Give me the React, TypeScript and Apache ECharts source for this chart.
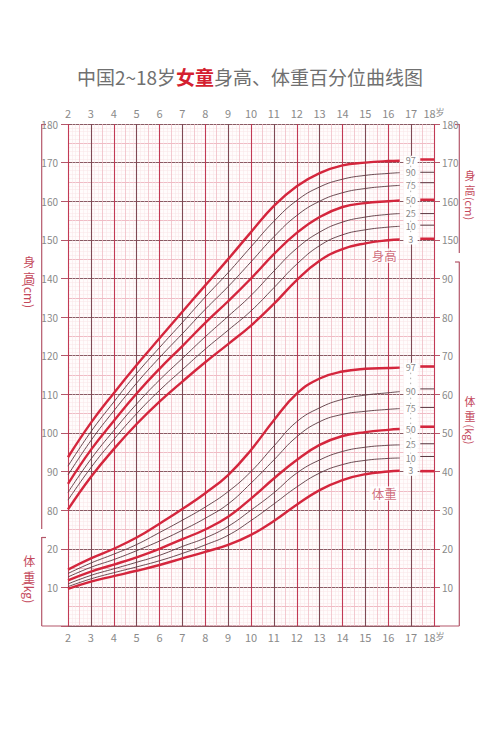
import React, { useEffect, useRef } from 'react';
import * as echarts from 'echarts';

// ---------- data ----------
const AGES = [2, 3, 4, 5, 6, 7, 8, 9, 10, 11, 12, 13, 14, 15, 16, 16.5];
const PERCENTILES = ['3', '10', '25', '50', '75', '90', '97'];
const THICK = ['3', '50', '97'];

// height (cm)
const H_P3 = [80.2, 88.6, 95.8, 102.3, 108.1, 113.3, 118.3, 123.0, 127.8, 133.4, 139.6, 144.6, 147.6, 149.1, 149.9, 150.1];
const H_P10 = [82.6, 91.0, 98.3, 105.0, 111.0, 116.4, 121.7, 126.6, 131.6, 137.6, 143.7, 148.5, 151.3, 152.6, 153.3, 153.5];
const H_P25 = [84.6, 93.2, 100.6, 107.5, 113.7, 119.3, 124.9, 130.2, 135.6, 141.9, 147.8, 152.0, 154.6, 155.9, 156.6, 156.8];
const H_P50 = [86.8, 95.6, 103.1, 110.2, 116.6, 122.5, 128.5, 134.1, 140.0, 146.3, 151.8, 155.9, 158.5, 159.5, 160.0, 160.2];
const H_P75 = [89.1, 98.0, 105.7, 112.9, 119.5, 125.7, 132.0, 137.9, 144.3, 150.8, 156.3, 160.0, 162.2, 163.3, 163.9, 164.1];
const H_P90 = [91.4, 100.3, 108.0, 115.4, 122.1, 128.6, 135.2, 141.5, 148.2, 154.8, 160.2, 163.7, 165.7, 166.7, 167.2, 167.4];
const H_P97 = [93.7, 102.6, 110.3, 117.6, 124.5, 131.4, 138.2, 145.0, 152.0, 158.8, 163.9, 167.3, 169.3, 170.0, 170.4, 170.5];
const HEIGHT_AT_18 = [150.3, 153.8, 156.8, 160.4, 164.8, 167.5, 170.8];

// weight (kg)
const W_P3 = [9.6, 11.5, 12.9, 14.3, 15.8, 17.5, 19.2, 21.0, 23.6, 27.2, 31.4, 35.2, 37.8, 39.3, 40.0, 40.2];
const W_P10 = [10.2, 12.2, 13.8, 15.3, 16.9, 18.8, 21.0, 23.5, 27.3, 31.6, 36.0, 39.6, 41.8, 42.9, 43.4, 43.5];
const W_P25 = [10.9, 13.1, 14.8, 16.5, 18.3, 20.6, 22.8, 25.8, 30.0, 34.5, 39.6, 43.0, 45.2, 46.3, 46.8, 46.9];
const W_P50 = [11.8, 14.1, 15.9, 17.8, 20.0, 22.5, 25.0, 28.3, 33.0, 38.2, 43.0, 46.9, 49.2, 50.2, 50.8, 51.0];
const W_P75 = [12.7, 15.2, 17.2, 19.5, 22.0, 24.8, 27.9, 31.6, 37.0, 43.0, 49.0, 52.9, 54.8, 55.6, 56.1, 56.3];
const W_P90 = [13.6, 16.3, 18.6, 21.1, 24.2, 27.4, 30.8, 34.8, 40.0, 46.6, 52.9, 56.5, 58.7, 59.8, 60.4, 60.7];
const W_P97 = [14.6, 17.5, 20.0, 22.9, 26.5, 30.3, 34.4, 39.1, 45.6, 53.3, 60.2, 64.1, 65.9, 66.6, 66.8, 66.9];
const WEIGHT_AT_18 = [40.1, 43.9, 47.2, 51.6, 56.6, 61.4, 67.2];

const HEIGHT_SETS = [H_P3, H_P10, H_P25, H_P50, H_P75, H_P90, H_P97];
const WEIGHT_SETS = [W_P3, W_P10, W_P25, W_P50, W_P75, W_P90, W_P97];

// weight is drawn on the same scale as height: kg + 50
const WEIGHT_SHIFT = 50;
const LABEL_AGE = 16.98;
const DASH_FROM = 17.4;
const DASH_TO = 18;
const HEIGHT_NOTE = { age: 15.82, value: 145.9, text: '身高' };
const WEIGHT_NOTE = { age: 15.82, value: 34.3, text: '体重' };

// ---------- style ----------
const FONT = '"Noto Sans CJK SC", "Noto Sans", sans-serif';
const THICK_COLOR = '#d4263d';
const THIN_COLOR = '#5a3840';
const GRAY = '#8a8a8a';
const NAME_COLOR = '#c4495c';
const FRAME = '#b4576a';

function curve(name: string, data: number[][], pct: string) {
  const thick = THICK.includes(pct);
  return {
    name,
    type: 'line',
    data,
    smooth: 0.45,
    symbol: 'none',
    z: 3,
    silent: true,
    lineStyle: { color: thick ? THICK_COLOR : THIN_COLOR, width: thick ? 2.4 : 0.9 },
  };
}

function dash(name: string, v: number, pct: string) {
  const thick = THICK.includes(pct);
  return {
    name,
    type: 'line',
    data: [[DASH_FROM, v], [DASH_TO, v]],
    symbol: 'none',
    z: 3,
    silent: true,
    lineStyle: { color: thick ? THICK_COLOR : THIN_COLOR, width: thick ? 2.6 : 1 },
  };
}

function labelColumn(key: string, ends: number[]) {
  const top = Math.max(...ends) + 1.3;
  const bottom = Math.min(...ends) - 1.3;
  return [
    {
      name: key + '-band',
      type: 'line',
      data: [[LABEL_AGE, top], [LABEL_AGE, bottom]],
      symbol: 'none',
      z: 4,
      silent: true,
      lineStyle: { color: '#ffffff', width: 14, cap: 'butt' },
    },
    {
      name: key + '-dots',
      type: 'line',
      data: [[LABEL_AGE, top], [LABEL_AGE, bottom]],
      symbol: 'none',
      z: 5,
      silent: true,
      lineStyle: { color: '#9a9a9a', width: 0.8, type: [1.5, 3.5] },
    },
    {
      name: key + '-labels',
      type: 'scatter',
      data: ends.map((v, i) => ({ value: [LABEL_AGE, v], name: PERCENTILES[i] })),
      symbolSize: 1,
      itemStyle: { color: 'rgba(0,0,0,0)' },
      z: 6,
      silent: true,
      label: {
        show: true,
        position: 'inside',
        formatter: (p: any) => p.name,
        color: '#666',
        fontSize: 9,
        lineHeight: 9,
        fontFamily: FONT,
        backgroundColor: '#ffffff',
        padding: [0, 1],
      },
    },
  ];
}

function note(n: { age: number; value: number; text: string }, shift: number) {
  return {
    name: n.text,
    type: 'scatter',
    data: [{ value: [n.age, n.value + shift], name: n.text }],
    symbolSize: 1,
    itemStyle: { color: 'rgba(0,0,0,0)' },
    z: 6,
    silent: true,
    label: {
      show: true,
      position: 'inside',
      formatter: (p: any) => p.name,
      color: NAME_COLOR,
      fontSize: 12.5,
      fontFamily: FONT,
      backgroundColor: '#ffffff',
      padding: [1, 2],
    },
  };
}

function buildSeries() {
  const s: any[] = [];
  PERCENTILES.forEach((pct, i) => {
    s.push(curve('H' + pct, AGES.map((a, j) => [a, HEIGHT_SETS[i][j]]), pct));
    s.push(curve('W' + pct, AGES.map((a, j) => [a, WEIGHT_SETS[i][j] + WEIGHT_SHIFT]), pct));
    s.push(dash('H18-' + pct, HEIGHT_AT_18[i], pct));
    s.push(dash('W18-' + pct, WEIGHT_AT_18[i] + WEIGHT_SHIFT, pct));
  });
  const hEnds = HEIGHT_SETS.map((arr) => arr[arr.length - 1]);
  const wEnds = WEIGHT_SETS.map((arr) => arr[arr.length - 1] + WEIGHT_SHIFT);
  s.push(...labelColumn('H', hEnds));
  s.push(...labelColumn('W', wEnds));
  s.push(note(HEIGHT_NOTE, 0));
  s.push(note(WEIGHT_NOTE, WEIGHT_SHIFT));
  return s;
}

function axisName(x: number, c1: number, c2: number, unitY: number, chars: string[], unit: string, size: number) {
  const st = { fill: NAME_COLOR, fontSize: size, fontFamily: FONT, textAlign: 'center', textVerticalAlign: 'middle' };
  return [
    { type: 'text', x, y: c1, style: { ...st, text: chars[0] } },
    { type: 'text', x, y: c2, style: { ...st, text: chars[1] } },
    { type: 'text', x, y: unitY, rotation: -Math.PI / 2, style: { ...st, text: unit } },
  ];
}

function frameLine(x1: number, y1: number, x2: number, y2: number) {
  return { type: 'line', shape: { x1, y1, x2, y2 }, style: { stroke: FRAME, lineWidth: 1.2 }, silent: true };
}

const xFormatter = (v: number) => (v === 18 ? '18{s|岁}' : String(v));
const xRich = { s: { fontSize: 9, color: GRAY, fontFamily: FONT } };

export default function App() {
  const ref = useRef<HTMLDivElement>(null);
  useEffect(() => {
    if (!ref.current) return;
    const chart = echarts.init(ref.current, null, { renderer: 'svg' });
    const option: any = {
      animation: false,
      backgroundColor: '#ffffff',
      textStyle: { fontFamily: FONT },
      title: {
        text: '{a|中国2~18岁}{b|女童}{a|身高、体重百分位曲线图}',
        left: 'center',
        top: 62,
        textStyle: {
          fontWeight: 'normal',
          rich: {
            a: { fontSize: 19, color: '#707070', fontWeight: 'normal', fontFamily: FONT },
            b: { fontSize: 19, color: '#d41f30', fontWeight: 'bold', fontFamily: FONT },
          },
        },
      },
      grid: { left: 68, right: 66, top: 124, bottom: 110, show: true, backgroundColor: '#fffcfc', borderWidth: 0, outerBoundsMode: 'none' },
      xAxis: [
        {
          type: 'value', min: 2, max: 18, interval: 1, position: 'bottom',
          axisLine: { show: false }, axisTick: { show: false },
          axisLabel: { margin: 5, color: GRAY, fontSize: 11, formatter: xFormatter, rich: xRich },
          splitLine: { show: true, lineStyle: { color: ['#c23a55', '#7f4a55'], width: 1.1 } },
          z: 2,
        },
        {
          type: 'value', min: 2, max: 18, interval: 1, position: 'top',
          axisLine: { show: false }, axisTick: { show: false },
          axisLabel: { margin: 6, color: GRAY, fontSize: 11, formatter: xFormatter, rich: xRich },
          splitLine: { show: false },
        },
        {
          type: 'value', min: 2, max: 18, interval: 0.5, position: 'bottom',
          axisLine: { show: false }, axisTick: { show: false }, axisLabel: { show: false },
          splitLine: { show: true, lineStyle: { color: ['rgba(0,0,0,0)', '#f0bcc5'], width: 0.8 } },
          minorTick: { show: false, splitNumber: 3 },
          minorSplitLine: { show: true, lineStyle: { color: '#f9e4e7', width: 0.5 } },
          z: 1,
        },
      ],
      yAxis: [
        {
          type: 'value', min: 50, max: 180, interval: 10, position: 'left',
          axisLine: { show: false },
          axisTick: { show: true, length: 7, lineStyle: { color: FRAME, width: 1 } },
          axisLabel: {
            margin: 10, color: GRAY, fontSize: 10,
            formatter: (v: number) => (v >= 80 ? String(v) : v >= 60 ? String(v - WEIGHT_SHIFT) : ''),
          },
          splitLine: { show: false },
        },
        {
          type: 'value', min: 50, max: 180, interval: 10, position: 'right',
          axisLine: { show: false },
          axisTick: { show: true, length: 6, lineStyle: { color: FRAME, width: 1 } },
          axisLabel: {
            margin: 8, color: GRAY, fontSize: 10,
            formatter: (v: number) => (v >= 150 ? String(v) : v >= 60 ? String(v - WEIGHT_SHIFT) : ''),
          },
          splitLine: { show: false },
        },
        {
          type: 'value', min: 50, max: 180, interval: 5, position: 'left',
          axisLine: { show: false }, axisTick: { show: false }, axisLabel: { show: false },
          splitLine: { show: true, lineStyle: { color: ['#8a5a63', '#f0bcc5'], width: 1 } },
          minorTick: { show: false, splitNumber: 5 },
          minorSplitLine: { show: true, lineStyle: { color: '#f9e4e7', width: 0.5 } },
        },
      ],
      graphic: [
        frameLine(41.7, 124, 41.7, 529),
        frameLine(41.7, 124.5, 46, 124.5),
        frameLine(41.7, 537, 41.7, 626),
        frameLine(41.7, 537.5, 46, 537.5),
        frameLine(41.7, 626, 459.3, 626),
        frameLine(459.3, 124, 459.3, 253),
        frameLine(455, 124.5, 459.3, 124.5),
        frameLine(459.3, 261.7, 459.3, 626),
        frameLine(455, 262, 459.3, 262),
        ...axisName(29.3, 261.5, 277.5, 295.5, ['身', '高'], '(cm)', 12),
        ...axisName(29.3, 560.5, 576.5, 592.5, ['体', '重'], '(kg)', 12),
        ...axisName(470, 175, 190, 208.5, ['身', '高'], '(cm)', 11),
        ...axisName(470, 401, 416, 434.5, ['体', '重'], '(kg)', 11),
      ],
      series: buildSeries(),
    };
    chart.setOption(option);
    return () => chart.dispose();
  }, []);
  return (
    <div
      ref={ref}
      style={{ position: 'absolute', left: 0, top: 0, width: 500, height: 736, background: '#fff' }}
    />
  );
}
